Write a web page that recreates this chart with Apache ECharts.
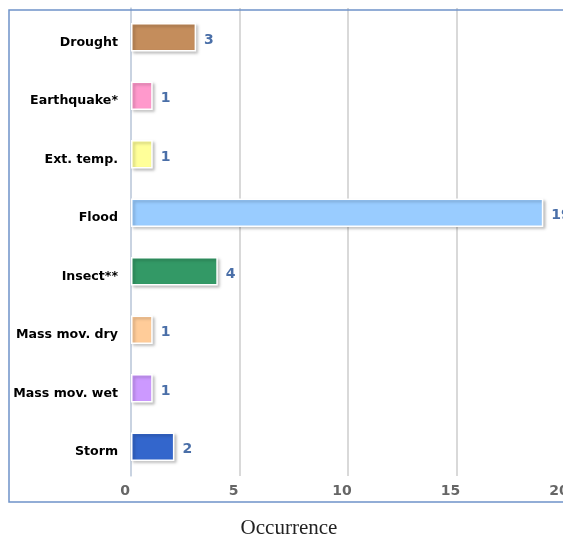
<!DOCTYPE html>
<html>
<head>
<meta charset="utf-8">
<script src="https://cdn.jsdelivr.net/npm/echarts@6/dist/echarts.min.js"></script>
<style>
  html, body { margin: 0; padding: 0; background: #fff; }
  #chart { width: 563px; height: 537px; }
</style>
</head>
<body>
<div id="chart"></div>
<script>
// Hazard categories and how often each occurred
const categories = ['Drought', 'Earthquake*', 'Ext. temp.', 'Flood', 'Insect**', 'Mass mov. dry', 'Mass mov. wet', 'Storm'];
const occurrences = [3, 1, 1, 19, 4, 1, 1, 2];
const barColors = ['#c48d5c', '#ff99cc', '#ffff99', '#99ccff', '#339966', '#ffcc99', '#cc99ff', '#3366cc'];
const xTicks = [0, 5, 10, 15, 20];

const chart = echarts.init(document.getElementById('chart'));

chart.setOption({
  animation: false,
  grid: { left: 131, top: 8, right: -2, bottom: 61, containLabel: false, outerBoundsMode: 'none' },
  xAxis: {
    type: 'value',
    min: xTicks[0],
    max: xTicks[xTicks.length - 1],
    interval: xTicks[1] - xTicks[0],
    axisLine: { show: false },
    axisTick: { show: false },
    splitLine: { lineStyle: { color: '#cccccc', width: 1.5 } },
    axisLabel: {
      color: '#666666',
      fontFamily: 'DejaVu Sans',
      fontWeight: 'bold',
      fontSize: 14,
      margin: 8,
      padding: [0, 12, 0, 0]
    }
  },
  yAxis: {
    type: 'category',
    inverse: true,
    data: categories,
    axisLine: { lineStyle: { color: '#c4d2e4', width: 1.5 } },
    axisTick: { length: 7, lineStyle: { color: '#c4d2e4', width: 1.5 } },
    axisLabel: {
      color: '#000000',
      fontFamily: 'DejaVu Sans',
      fontWeight: 'bold',
      fontSize: 12.6,
      margin: 13,
      verticalAlign: 'top',
      lineHeight: 10
    }
  },
  series: [{
    type: 'bar',
    data: occurrences.map((v, i) => ({ value: v, itemStyle: { color: barColors[i] } })),
    barWidth: '49%',
    itemStyle: {
      borderColor: '#ffffff',
      borderWidth: 1.5,
      shadowColor: 'rgba(0,0,0,0.25)',
      shadowBlur: 3,
      shadowOffsetX: 2,
      shadowOffsetY: 2
    },
    label: {
      show: true,
      position: 'right',
      distance: 8,
      offset: [0, 3],
      color: '#4a6fa8',
      fontFamily: 'DejaVu Sans',
      fontWeight: 'bold',
      fontSize: 14
    }
  }],
  graphic: [
    {
      type: 'rect',
      shape: { x: 9, y: 10, width: 620, height: 492 },
      style: { fill: 'none', stroke: '#6f93c9', lineWidth: 1.5 },
      silent: true,
      z: 100
    },
    {
      type: 'text',
      x: 289,
      y: 528,
      style: {
        text: 'Occurrence',
        fill: '#222222',
        font: '21px "Liberation Serif"',
        textAlign: 'center',
        textVerticalAlign: 'middle'
      }
    }
  ]
});
</script>
</body>
</html>
